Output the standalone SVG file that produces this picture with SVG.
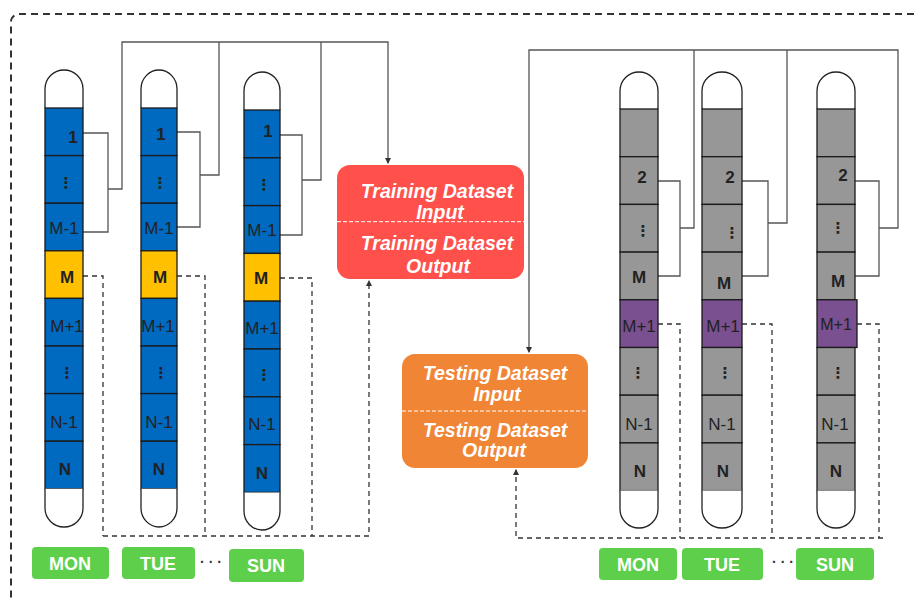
<svg xmlns="http://www.w3.org/2000/svg" width="917" height="599" viewBox="0 0 917 599">
  <defs>
    <style>
      .frame { fill: none; stroke: #333; stroke-width: 2; stroke-dasharray: 7 5; }
      .cap { fill: #fff; stroke: #222; stroke-width: 1.3; }
      .cell { stroke: #1a1a1a; stroke-width: 1.3; }
      .blue { fill: #0069C0; }
      .yellow { fill: #FFC000; }
      .gray { fill: #979797; }
      .purple { fill: #7A5090; }
      .lbl { font-family: "Liberation Sans", Arial, sans-serif; font-size: 17px; fill: #222; text-anchor: middle; }
      .b { font-weight: bold; }
      .dots { font-family: "DejaVu Sans", sans-serif; font-size: 15px; font-weight: bold; fill: #222; text-anchor: middle; }
      .wire { fill: none; stroke: #555; stroke-width: 1.3; }
      .dash { fill: none; stroke: #333; stroke-width: 1.3; stroke-dasharray: 5 4; }
      .box-t { font-family: "Liberation Sans", Arial, sans-serif; font-size: 19.5px; font-weight: bold; font-style: italic; fill: #fff; text-anchor: middle; }
      .sep { stroke: #fff; stroke-width: 1; stroke-dasharray: 4 2; }
      .day { fill: #5DCF4B; }
      .day-t { font-family: "Liberation Sans", Arial, sans-serif; font-size: 18px; font-weight: bold; fill: #fff; text-anchor: middle; }
      .ell { font-family: "Liberation Sans", Arial, sans-serif; font-size: 14px; font-weight: bold; fill: #333; text-anchor: middle; }
    </style>
    <marker id="tip" viewBox="0 0 6 6" refX="5" refY="3" markerWidth="5" markerHeight="5" orient="auto">
      <path d="M0,0 L6,3 L0,6 z" fill="#333"/>
    </marker>
  </defs>

  <!-- outer dashed frame -->
  <rect class="frame" x="11" y="14" width="925" height="600" rx="8"/>

  <!-- connectors -->
  <g id="connectors">
    <!-- training inputs -->
    <path class="wire" d="M83,133 H108 V232 H83"/>
    <path class="wire" d="M108,189 H122 V42 H388 V163" marker-end="url(#tip)"/>
    <path class="wire" d="M177,132 H200 V227 H177"/>
    <path class="wire" d="M200,175 H219 V42"/>
    <path class="wire" d="M280,135 H302 V235 H280"/>
    <path class="wire" d="M302,180 H321 V42"/>
    <!-- training outputs -->
    <path class="dash" d="M83,276 H103 V536"/>
    <path class="dash" d="M177,276 H205 V536"/>
    <path class="dash" d="M280,278 H312 V536"/>
    <path class="dash" d="M103,536 H369 V281" marker-end="url(#tip)"/>
    <!-- testing inputs -->
    <path class="wire" d="M658,181 H680 V276 H658"/>
    <path class="wire" d="M680,228 H694 V50"/>
    <path class="wire" d="M742,181 H768 V276 H742"/>
    <path class="wire" d="M768,223 H787 V50"/>
    <path class="wire" d="M855,181 H879 V276 H855"/>
    <path class="wire" d="M879,228 H898 V50 H529 V352" marker-end="url(#tip)"/>
    <!-- testing outputs -->
    <path class="dash" d="M658,324 H680 V538"/>
    <path class="dash" d="M742,324 H772 V538"/>
    <path class="dash" d="M857,324 H879 V538"/>
    <path class="dash" d="M883,538 H516 V470" marker-end="url(#tip)"/>
  </g>

  <!-- training columns -->
  <g id="train-mon">
    <path class="cap" d="M45,108 V89 A19,19 0 0 1 83,89 V108"/>
    <rect class="cell blue" x="45" y="108" width="38" height="47.6"/>
    <rect class="cell blue" x="45" y="155.6" width="38" height="47.6"/>
    <rect class="cell blue" x="45" y="203.2" width="38" height="47.6"/>
    <rect class="cell yellow" x="45" y="250.8" width="38" height="47.6"/>
    <rect class="cell blue" x="45" y="298.4" width="38" height="47.6"/>
    <rect class="cell blue" x="45" y="346" width="38" height="47.6"/>
    <rect class="cell blue" x="45" y="393.6" width="38" height="47.6"/>
    <rect class="cell blue" x="45" y="441.2" width="38" height="47.6"/>
    <path class="cap" d="M45,488.8 V508 A19,19 0 0 0 83,508 V488.8"/>
    <text class="lbl b" x="73" y="143">1</text>
    <text class="dots" x="66" y="188">⋮</text>
    <text class="lbl" x="64" y="234">M-1</text>
    <text class="lbl b" x="67" y="283">M</text>
    <text class="lbl" x="67" y="332">M+1</text>
    <text class="dots" x="67" y="378">⋮</text>
    <text class="lbl" x="64" y="428">N-1</text>
    <text class="lbl b" x="65" y="475">N</text>
  </g>

  <g id="train-tue">
    <path class="cap" d="M141,108 V89 A18,19 0 0 1 177,89 V108"/>
    <rect class="cell blue" x="141" y="108" width="36" height="47.6"/>
    <rect class="cell blue" x="141" y="155.6" width="36" height="47.6"/>
    <rect class="cell blue" x="141" y="203.2" width="36" height="47.6"/>
    <rect class="cell yellow" x="141" y="250.8" width="36" height="47.6"/>
    <rect class="cell blue" x="141" y="298.4" width="36" height="47.6"/>
    <rect class="cell blue" x="141" y="346" width="36" height="47.6"/>
    <rect class="cell blue" x="141" y="393.6" width="36" height="47.6"/>
    <rect class="cell blue" x="141" y="441.2" width="36" height="47.6"/>
    <path class="cap" d="M141,488.8 V508 A18,19 0 0 0 177,508 V488.8"/>
    <text class="lbl b" x="161" y="140">1</text>
    <text class="dots" x="160" y="188">⋮</text>
    <text class="lbl" x="159" y="234">M-1</text>
    <text class="lbl b" x="160" y="283">M</text>
    <text class="lbl" x="158" y="332">M+1</text>
    <text class="dots" x="161" y="378">⋮</text>
    <text class="lbl" x="159" y="428">N-1</text>
    <text class="lbl b" x="159" y="475">N</text>
  </g>

  <g id="train-sun">
    <path class="cap" d="M244,110 V91 A18,19 0 0 1 280,91 V110"/>
    <rect class="cell blue" x="244" y="110" width="36" height="47.8"/>
    <rect class="cell blue" x="244" y="157.8" width="36" height="47.8"/>
    <rect class="cell blue" x="244" y="205.6" width="36" height="47.8"/>
    <rect class="cell yellow" x="244" y="253.4" width="36" height="47.8"/>
    <rect class="cell blue" x="244" y="301.2" width="36" height="47.8"/>
    <rect class="cell blue" x="244" y="349" width="36" height="47.8"/>
    <rect class="cell blue" x="244" y="396.8" width="36" height="47.8"/>
    <rect class="cell blue" x="244" y="444.6" width="36" height="47.8"/>
    <path class="cap" d="M244,492.4 V511 A18,19 0 0 0 280,511 V492.4"/>
    <text class="lbl b" x="268" y="137">1</text>
    <text class="dots" x="264" y="190">⋮</text>
    <text class="lbl" x="262" y="236">M-1</text>
    <text class="lbl b" x="261" y="284">M</text>
    <text class="lbl" x="262" y="334">M+1</text>
    <text class="dots" x="264" y="380">⋮</text>
    <text class="lbl" x="262" y="430">N-1</text>
    <text class="lbl b" x="262" y="479">N</text>
  </g>

  <!-- dataset boxes -->
  <g id="training-dataset">
    <rect x="337" y="165" width="187" height="114" rx="13" fill="#FF504B"/>
    <line class="sep" x1="337" y1="221.7" x2="524" y2="221.7"/>
    <text class="box-t" x="437" y="198">Training Dataset</text>
    <text class="box-t" x="440" y="219">Input</text>
    <text class="box-t" x="437" y="250">Training Dataset</text>
    <text class="box-t" x="438" y="273">Output</text>
  </g>

  <g id="testing-dataset">
    <rect x="402" y="354" width="186" height="114" rx="13" fill="#F08536"/>
    <line class="sep" x1="402" y1="411" x2="588" y2="411"/>
    <text class="box-t" x="495" y="380">Testing Dataset</text>
    <text class="box-t" x="497" y="401">Input</text>
    <text class="box-t" x="495" y="437">Testing Dataset</text>
    <text class="box-t" x="494" y="457">Output</text>
  </g>

  <!-- testing columns -->
  <g id="test-mon">
    <path class="cap" d="M620,109 V91 A19,19 0 0 1 658,91 V109"/>
    <rect class="cell gray" x="620" y="109" width="38" height="47.7"/>
    <rect class="cell gray" x="620" y="156.7" width="38" height="47.7"/>
    <rect class="cell gray" x="620" y="204.4" width="38" height="47.7"/>
    <rect class="cell gray" x="620" y="252.1" width="38" height="47.7"/>
    <rect class="cell purple" x="620" y="299.8" width="38" height="47.7"/>
    <rect class="cell gray" x="620" y="347.5" width="38" height="47.7"/>
    <rect class="cell gray" x="620" y="395.2" width="38" height="47.7"/>
    <rect class="cell gray" x="620" y="442.9" width="38" height="47.7"/>
    <path class="cap" d="M620,490.6 V509 A19,19 0 0 0 658,509 V490.6"/>
    <text class="lbl b" x="642" y="183">2</text>
    <text class="dots" x="643" y="236">⋮</text>
    <text class="lbl b" x="639" y="283">M</text>
    <text class="lbl" x="639" y="332">M+1</text>
    <text class="dots" x="638" y="378">⋮</text>
    <text class="lbl" x="639" y="430">N-1</text>
    <text class="lbl b" x="640" y="477">N</text>
  </g>

  <g id="test-tue">
    <path class="cap" d="M702,109 V91 A20,19 0 0 1 742,91 V109"/>
    <rect class="cell gray" x="702" y="109" width="40" height="47.7"/>
    <rect class="cell gray" x="702" y="156.7" width="40" height="47.7"/>
    <rect class="cell gray" x="702" y="204.4" width="40" height="47.7"/>
    <rect class="cell gray" x="702" y="252.1" width="40" height="47.7"/>
    <rect class="cell purple" x="702" y="299.8" width="40" height="47.7"/>
    <rect class="cell gray" x="702" y="347.5" width="40" height="47.7"/>
    <rect class="cell gray" x="702" y="395.2" width="40" height="47.7"/>
    <rect class="cell gray" x="702" y="442.9" width="40" height="47.7"/>
    <path class="cap" d="M702,490.6 V509 A20,19 0 0 0 742,509 V490.6"/>
    <text class="lbl b" x="730" y="183">2</text>
    <text class="dots" x="732" y="238">⋮</text>
    <text class="lbl b" x="724" y="289">M</text>
    <text class="lbl" x="723" y="332">M+1</text>
    <text class="dots" x="725" y="378">⋮</text>
    <text class="lbl" x="722" y="430">N-1</text>
    <text class="lbl b" x="723" y="477">N</text>
  </g>

  <g id="test-sun">
    <path class="cap" d="M817,109 V91 A19,19 0 0 1 855,91 V109"/>
    <rect class="cell gray" x="817" y="109" width="38" height="47.7"/>
    <rect class="cell gray" x="817" y="156.7" width="38" height="47.7"/>
    <rect class="cell gray" x="817" y="204.4" width="38" height="47.7"/>
    <rect class="cell gray" x="817" y="252.1" width="38" height="47.7"/>
    <rect class="cell purple" x="817" y="299.8" width="40" height="47.7"/>
    <rect class="cell gray" x="817" y="347.5" width="38" height="47.7"/>
    <rect class="cell gray" x="817" y="395.2" width="38" height="47.7"/>
    <rect class="cell gray" x="817" y="442.9" width="38" height="47.7"/>
    <path class="cap" d="M817,490.6 V509 A19,19 0 0 0 855,509 V490.6"/>
    <text class="lbl b" x="843" y="181">2</text>
    <text class="dots" x="838" y="233">⋮</text>
    <text class="lbl b" x="838" y="287">M</text>
    <text class="lbl" x="836" y="330" style="font-size:16px">M+1</text>
    <text class="dots" x="838" y="378">⋮</text>
    <text class="lbl" x="835" y="430">N-1</text>
    <text class="lbl b" x="836" y="477">N</text>
  </g>

  <!-- day labels -->
  <g id="day-train-mon">
    <rect class="day" x="32" y="547" width="77" height="32" rx="4"/>
    <text class="day-t" x="70" y="570">MON</text>
  </g>
  <g id="day-train-tue">
    <rect class="day" x="122" y="547" width="73" height="32" rx="4"/>
    <text class="day-t" x="158" y="570">TUE</text>
  </g>
  <text class="ell" x="211" y="567">· · ·</text>
  <g id="day-train-sun">
    <rect class="day" x="229" y="549" width="75" height="33" rx="4"/>
    <text class="day-t" x="266" y="572">SUN</text>
  </g>

  <g id="day-test-mon">
    <rect class="day" x="599" y="548" width="78" height="32" rx="4"/>
    <text class="day-t" x="638" y="571">MON</text>
  </g>
  <g id="day-test-tue">
    <rect class="day" x="682" y="548" width="81" height="32" rx="4"/>
    <text class="day-t" x="722" y="571">TUE</text>
  </g>
  <text class="ell" x="783" y="567">· · ·</text>
  <g id="day-test-sun">
    <rect class="day" x="796" y="548" width="78" height="32" rx="4"/>
    <text class="day-t" x="835" y="571">SUN</text>
  </g>
</svg>
